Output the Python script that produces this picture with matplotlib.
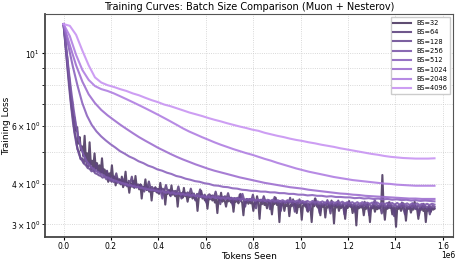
import numpy as np
import matplotlib
matplotlib.use("Agg")
import matplotlib.pyplot as plt

# tokens seen at the end of every run
max_tokens = 1.565e6

batch_sizes = [32, 64, 128, 256, 512, 1024, 2048, 4096]
colors = ["#4e3a63", "#5f4580", "#6e4f96", "#7d5aab", "#8c64be", "#9e6fd0", "#b07ee2", "#c894f2"]

loss_bs32 = [
    12.30, 11.45, 10.40, 9.70, 8.75, 8.20, 7.40, 7.10, 6.45, 6.35, 5.80, 5.95, 5.30, 5.55, 5.05,
    5.20, 4.85, 5.60, 4.75, 4.95, 4.62, 5.35, 4.58, 4.70, 4.48, 4.95, 4.45, 4.62, 4.38, 4.55,
    4.32, 4.78, 4.30, 4.42, 4.22, 4.36, 4.05, 4.30, 4.18, 4.55, 4.14, 4.20, 3.95, 4.16, 4.08,
    4.12, 3.98, 4.20, 3.90, 4.05, 4.35, 3.96, 4.02, 3.75, 4.00, 3.92, 4.08, 3.88, 4.22, 3.90,
    3.95, 3.84, 3.98, 3.60, 3.90, 3.86, 4.12, 3.82, 3.92, 3.78, 3.88, 3.55, 3.86, 3.80, 3.90,
    3.76, 3.85, 3.72, 4.02, 3.78, 3.70, 3.82, 3.45, 3.76, 3.72, 3.80, 3.68, 3.95, 3.70, 3.74,
    3.66, 3.75, 3.40, 3.72, 3.68, 3.74, 3.62, 3.88, 3.66, 3.70, 3.52, 3.68, 3.64, 3.72, 3.60,
    3.68, 3.58, 3.66, 3.30, 3.62, 3.65, 3.80, 3.60, 3.64, 3.55, 3.62, 3.35, 3.63, 3.58, 3.66,
    3.55, 3.62, 3.50, 3.58, 3.25, 3.60, 3.56, 3.75, 3.52, 3.58, 3.54, 3.40, 3.57, 3.53, 3.60,
    3.50, 3.56, 3.28, 3.55, 3.52, 3.58, 3.48, 3.70, 3.54, 3.50, 3.20, 3.53, 3.49, 3.56, 3.47,
    3.54, 3.48, 3.52, 3.30, 3.50, 3.47, 3.66, 3.49, 3.12, 3.51, 3.46, 3.53, 3.44, 3.50, 3.36,
    3.48, 3.52, 3.45, 3.22, 3.49, 3.46, 3.62, 3.44, 3.50, 3.05, 3.47, 3.43, 3.49, 3.30, 3.46,
    3.42, 3.48, 3.18, 3.45, 3.41, 3.58, 3.43, 3.47, 3.25, 3.44, 3.40, 3.46, 3.10, 3.43, 3.45,
    3.40, 3.46, 3.28, 3.44, 3.40, 3.05, 3.45, 3.41, 3.60, 3.42, 3.38, 3.44, 3.20, 3.43, 3.40,
    3.44, 3.15, 3.41, 3.38, 3.46, 3.36, 3.55, 3.40, 3.02, 3.42, 3.38, 3.44, 3.30, 3.41, 3.37,
    3.43, 3.39, 3.12, 3.41, 3.37, 3.52, 3.40, 3.44, 3.25, 3.38, 3.42, 2.98, 3.40, 3.36, 3.42,
    3.38, 3.42, 3.20, 3.39, 3.35, 3.48, 3.37, 3.05, 3.40, 3.36, 3.42, 3.28, 3.39, 3.34, 3.41,
    3.36, 3.40, 4.25, 3.38, 3.10, 3.39, 3.35, 3.50, 3.37, 3.41, 3.22, 3.38, 3.34, 2.95, 3.39,
    3.35, 3.40, 3.30, 3.37, 3.48, 3.34, 3.08, 3.38, 3.35, 3.41, 3.26, 3.36, 3.33, 3.52, 3.37,
    3.34, 3.12, 3.36, 3.32, 3.40, 3.30, 3.38, 3.05, 3.35, 3.31, 3.42, 3.28, 3.36, 3.33, 3.35,
]
loss_bs64 = [
    12.30, 11.00, 9.75, 8.70, 7.85, 6.95, 6.40, 5.80, 5.50, 5.10, 5.00, 4.75,
    4.78, 4.62, 4.85, 4.55, 4.50, 4.68, 4.42, 4.48, 4.36, 4.60, 4.35, 4.38,
    4.30, 4.42, 4.25, 4.20, 4.38, 4.18, 4.22, 4.05, 4.20, 4.15, 4.30, 4.10,
    4.12, 4.04, 4.15, 4.00, 4.06, 3.92, 4.08, 4.02, 4.20, 3.98, 4.00, 3.94,
    3.98, 3.90, 3.96, 3.88, 3.78, 3.94, 3.90, 4.06, 3.88, 3.91, 3.84, 3.88,
    3.86, 3.74, 3.88, 3.82, 3.86, 3.80, 3.96, 3.79, 3.83, 3.66, 3.81, 3.78,
    3.80, 3.76, 3.92, 3.74, 3.60, 3.77, 3.75, 3.72, 3.76, 3.70, 3.86, 3.71,
    3.73, 3.55, 3.72, 3.69, 3.84, 3.70, 3.66, 3.70, 3.50, 3.68, 3.71, 3.66,
    3.68, 3.64, 3.78, 3.62, 3.66, 3.46, 3.65, 3.63, 3.66, 3.60, 3.74, 3.60,
    3.62, 3.44, 3.61, 3.58, 3.62, 3.56, 3.72, 3.59, 3.57, 3.40, 3.59, 3.56,
    3.58, 3.55, 3.70, 3.53, 3.36, 3.56, 3.54, 3.57, 3.52, 3.66, 3.54, 3.52,
    3.54, 3.34, 3.53, 3.50, 3.64, 3.51, 3.49, 3.53, 3.30, 3.51, 3.50, 3.49,
    3.51, 3.48, 3.62, 3.47, 3.50, 3.28, 3.49, 3.46, 3.58, 3.48, 3.50, 3.45,
    3.48, 3.30, 3.47, 3.45, 3.49, 3.44, 3.60, 3.46, 3.44, 3.25, 3.46, 3.43,
    3.46, 3.43, 3.56, 3.42, 3.24, 3.44, 3.42, 3.45, 3.41, 3.55, 3.43, 3.40,
    3.44, 3.22, 3.43, 3.40, 3.54, 3.41, 3.39, 3.43, 3.26, 3.41, 3.40, 3.38,
    3.42, 3.39, 3.52, 3.38, 3.41, 3.20, 3.40, 3.37, 3.50, 3.39, 3.41, 3.36,
    3.41, 3.24, 3.40, 3.37, 3.39, 3.36, 3.51, 3.38, 3.36, 3.18, 3.38, 3.37,
    3.40, 3.37, 3.50, 3.35, 3.22, 3.38, 3.36, 3.39, 3.35, 3.48, 3.37, 3.34,
    3.39, 3.20, 3.38, 3.35, 3.47, 3.36, 3.34, 3.38, 3.22, 3.37, 3.36, 3.37,
]
loss_bs128 = [
    12.30, 10.60, 9.10, 7.90, 6.95, 6.20, 5.65, 5.25, 4.98, 4.80,
    4.70, 4.60, 4.55, 4.46, 4.44, 4.36, 4.38, 4.30, 4.28, 4.24,
    4.22, 4.17, 4.20, 4.12, 4.15, 4.08, 4.11, 4.04, 4.08, 4.02,
    4.04, 3.98, 4.02, 3.95, 3.99, 3.93, 3.97, 3.91, 3.95, 3.89,
    3.93, 3.87, 3.91, 3.85, 3.89, 3.83, 3.87, 3.82, 3.85, 3.80,
    3.84, 3.78, 3.82, 3.60, 3.80, 3.75, 3.79, 3.74, 3.77, 3.72,
    3.76, 3.71, 3.75, 3.70, 3.73, 3.68, 3.72, 3.67, 3.70, 3.66,
    3.70, 3.65, 3.68, 3.64, 3.67, 3.62, 3.66, 3.61, 3.65, 3.60,
    3.66, 3.61, 3.65, 3.60, 3.64, 3.59, 3.63, 3.58, 3.62, 3.57,
    3.62, 3.57, 3.61, 3.56, 3.60, 3.55, 3.72, 3.55, 3.58, 3.54,
    3.59, 3.54, 3.58, 3.53, 3.57, 3.53, 3.56, 3.52, 3.56, 3.51,
    3.56, 3.52, 3.55, 3.51, 3.55, 3.50, 3.54, 3.50, 3.53, 3.49,
    3.54, 3.50, 3.54, 3.49, 3.53, 3.49, 3.52, 3.48, 3.52, 3.48,
    3.52, 3.47, 3.32, 3.47, 3.51, 3.46, 3.50, 3.46, 3.50, 3.45,
    3.50, 3.45, 3.49, 3.45, 3.49, 3.44, 3.48, 3.44, 3.48, 3.44,
    3.48, 3.44, 3.48, 3.43, 3.47, 3.43, 3.47, 3.42, 3.46, 3.42,
    3.47, 3.42, 3.46, 3.42, 3.46, 3.41, 3.45, 3.56, 3.45, 3.41,
    3.45, 3.41, 3.45, 3.40, 3.44, 3.40, 3.44, 3.40, 3.44, 3.39,
    3.44, 3.40, 3.44, 3.39, 3.43, 3.39, 3.43, 3.39, 3.43, 3.38,
    3.43, 3.39, 3.43, 3.38, 3.42, 3.38, 3.42, 3.38, 3.42, 3.40,
]
loss_bs256 = [
    12.30, 10.60, 9.00, 7.75, 6.80, 6.05, 5.50, 5.15, 4.90, 4.72,
    4.60, 4.50, 4.44, 4.37, 4.33, 4.27, 4.24, 4.19, 4.17, 4.13,
    4.10, 4.08, 4.05, 4.03, 4.00, 3.99, 3.96, 3.95, 3.93, 3.91,
    3.90, 3.88, 3.87, 3.85, 3.84, 3.82, 3.82, 3.80, 3.79, 3.78,
    3.79, 3.75, 3.77, 3.73, 3.76, 3.71, 3.74, 3.70, 3.72, 3.69,
    3.71, 3.67, 3.70, 3.66, 3.68, 3.64, 3.67, 3.63, 3.66, 3.62,
    3.65, 3.61, 3.64, 3.60, 3.63, 3.59, 3.62, 3.59, 3.61, 3.58,
    3.61, 3.57, 3.60, 3.56, 3.59, 3.56, 3.59, 3.55, 3.58, 3.55,
    3.58, 3.54, 3.57, 3.54, 3.57, 3.53, 3.56, 3.53, 3.56, 3.52,
    3.56, 3.52, 3.55, 3.52, 3.55, 3.51, 3.54, 3.51, 3.54, 3.50,
    3.54, 3.50, 3.53, 3.50, 3.53, 3.49, 3.53, 3.49, 3.52, 3.49,
    3.52, 3.49, 3.52, 3.48, 3.51, 3.48, 3.51, 3.47, 3.51, 3.47,
    3.51, 3.47, 3.50, 3.47, 3.50, 3.46, 3.50, 3.46, 3.49, 3.46,
    3.49, 3.46, 3.49, 3.45, 3.49, 3.45, 3.48, 3.45, 3.48, 3.44,
    3.48, 3.45, 3.48, 3.44, 3.47, 3.44, 3.47, 3.44, 3.47, 3.45,
]
loss_bs512 = [
    12.30, 10.60, 9.10, 7.95, 7.05, 6.45, 6.05, 5.78, 5.58, 5.42,
    5.28, 5.16, 5.03, 4.94, 4.84, 4.77, 4.68, 4.62, 4.54, 4.49,
    4.42, 4.38, 4.32, 4.28, 4.22, 4.19, 4.14, 4.11, 4.07, 4.05,
    4.01, 3.99, 3.95, 3.94, 3.91, 3.90, 3.87, 3.86, 3.83, 3.82,
    3.80, 3.80, 3.78, 3.78, 3.76, 3.76, 3.74, 3.74, 3.72, 3.72,
    3.70, 3.70, 3.68, 3.69, 3.67, 3.67, 3.65, 3.66, 3.64, 3.64,
    3.63, 3.63, 3.61, 3.62, 3.60, 3.61, 3.59, 3.60, 3.58, 3.59,
    3.57, 3.58, 3.56, 3.57, 3.55, 3.56, 3.54, 3.55, 3.54, 3.53,
]
loss_bs1024 = [
    12.30, 10.60, 9.20, 8.20, 7.50, 7.05, 6.72, 6.47, 6.26, 6.06,
    5.88, 5.71, 5.55, 5.41, 5.28, 5.15, 5.04, 4.93, 4.83, 4.74,
    4.66, 4.58, 4.51, 4.44, 4.38, 4.33, 4.28, 4.23, 4.18, 4.14,
    4.10, 4.06, 4.02, 3.99, 3.96, 3.93, 3.90, 3.88, 3.86, 3.83,
    3.81, 3.79, 3.77, 3.75, 3.73, 3.72, 3.70, 3.69, 3.67, 3.66,
    3.65, 3.64, 3.63, 3.62, 3.61, 3.60, 3.60, 3.59, 3.59, 3.59,
]
loss_bs2048 = [
    12.30, 11.30, 9.90, 8.90, 8.30, 7.95, 7.78, 7.68, 7.55, 7.40,
    7.25, 7.10, 6.95, 6.80, 6.65, 6.50, 6.35, 6.20, 6.05, 5.90,
    5.77, 5.66, 5.55, 5.45, 5.35, 5.26, 5.18, 5.10, 5.03, 4.96,
    4.90, 4.83, 4.76, 4.70, 4.63, 4.57, 4.51, 4.45, 4.40, 4.35,
    4.31, 4.27, 4.23, 4.19, 4.16, 4.13, 4.10, 4.08, 4.06, 4.04,
    4.02, 4.00, 3.99, 3.97, 3.96, 3.95, 3.94, 3.94, 3.94, 3.94,
]
loss_bs4096 = [
    12.30, 12.15, 11.40, 10.20, 9.20, 8.45, 8.15, 8.00, 7.90, 7.78,
    7.68, 7.55, 7.45, 7.32, 7.20, 7.10, 6.98, 6.90, 6.80, 6.70,
    6.60, 6.52, 6.44, 6.35, 6.27, 6.20, 6.12, 6.05, 5.98, 5.92,
    5.85, 5.80, 5.72, 5.66, 5.60, 5.55, 5.49, 5.44, 5.40, 5.35,
    5.31, 5.26, 5.22, 5.18, 5.13, 5.09, 5.05, 5.01, 4.97, 4.93,
    4.90, 4.86, 4.83, 4.81, 4.79, 4.78, 4.77, 4.77, 4.77, 4.78,
]

losses = [loss_bs32, loss_bs64, loss_bs128, loss_bs256,
          loss_bs512, loss_bs1024, loss_bs2048, loss_bs4096]

fig = plt.figure(figsize=(4.59, 2.63), dpi=100)
ax = fig.add_axes([0.098, 0.099, 0.889, 0.848])

for bs, loss, c in zip(batch_sizes, losses, colors):
    tokens = np.linspace(0, max_tokens, len(loss))
    ax.plot(tokens, loss, color=c, lw=1.5, alpha=0.9, label=f"BS={bs}")

ax.set_yscale("log")
ax.grid(True, which="both", ls=":", lw=0.6, color="#cccccc")
ax.set_axisbelow(True)

ax.set_title("Training Curves: Batch Size Comparison (Muon + Nesterov)", fontsize=7, pad=3)
ax.set_xlabel("Tokens Seen", fontsize=6.5, labelpad=0.5)
ax.set_ylabel("Training Loss", fontsize=6.5)
ax.yaxis.set_label_coords(-0.082, 0.5)
ax.tick_params(axis="both", which="both", labelsize=5.5, length=2, pad=1.5)

# scale label drawn by hand so it sits beside the x label
ax.xaxis.get_offset_text().set_visible(False)
ax.text(1.005, -0.065, "1e6", transform=ax.transAxes, ha="right", va="top", fontsize=5.5)

for side in ["left", "bottom"]:
    ax.spines[side].set_color("#444444")
    ax.spines[side].set_linewidth(1.3)
for side in ["top", "right"]:
    ax.spines[side].set_color("#555555")
    ax.spines[side].set_linewidth(0.8)

ax.legend(loc="upper right", fontsize=4.8, handlelength=2.6, labelspacing=0.5,
          borderpad=0.4, framealpha=1.0, fancybox=False, edgecolor="#cccccc")

fig.savefig("out.png", dpi=100)
